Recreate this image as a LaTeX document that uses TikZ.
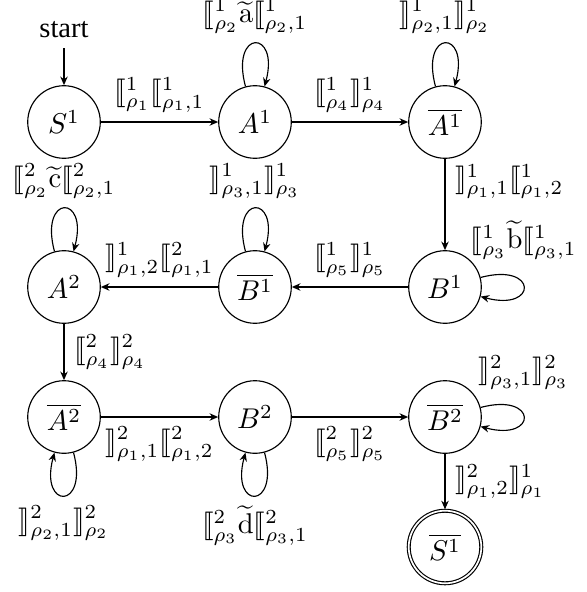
\documentclass[tikz,border=0pt]{standalone}
\usepackage[no-math]{fontspec}
\setmainfont{Liberation Serif}
\usepackage{amsmath}
\usepackage{stmaryrd}
\usetikzlibrary{automata,arrows.meta}
\begin{document}
\begin{tikzpicture}[x=0.35pt,y=0.35pt,
  >={Stealth[length=3pt,width=2.6pt]},
  every state/.style={draw,circle,minimum size=25.4pt,inner sep=0pt},
  every edge/.style={draw,->},
  every loop/.style={->},
  initial text=start, initial distance=13pt]
\useasboundingbox (0,0) rectangle (586,-592);
\node[state,initial,initial where=above] (S1) at (64,-122) {$S^1$};
\node[state] (A1) at (255,-122) {$A^1$};
\node[state] (Ab1) at (445,-122) {$\overline{A^1}$};
\node[state] (A2) at (64,-287) {$A^2$};
\node[state] (Bb1) at (255,-287) {$\overline{B^1}$};
\node[state] (B1) at (445,-287) {$B^1$};
\node[state] (Ab2) at (64,-417) {$\overline{A^2}$};
\node[state] (B2) at (255,-417) {$B^2$};
\node[state] (Bb2) at (445,-417) {$\overline{B^2}$};
\node[state,accepting] (Sb1) at (445,-547) {$\overline{S^1}$};

\path
 (S1) edge node[above] {$\llbracket^1_{\rho_1}\llbracket^1_{\rho_1,1}$} (A1)
 (A1) edge[loop above] node[above] {$\llbracket^1_{\rho_2}\widetilde{\mathrm{a}}\llbracket^1_{\rho_2,1}$} (A1)
 (A1) edge node[above] {$\llbracket^1_{\rho_4}\rrbracket^1_{\rho_4}$} (Ab1)
 (Ab1) edge[loop above] node[above] {$\rrbracket^1_{\rho_2,1}\rrbracket^1_{\rho_2}$} (Ab1)
 (Ab1) edge node[right,pos=0.25] {$\rrbracket^1_{\rho_1,1}\llbracket^1_{\rho_1,2}$} (B1)
 (B1) edge[loop right] node[above,yshift=6pt] {$\llbracket^1_{\rho_3}\widetilde{\mathrm{b}}\llbracket^1_{\rho_3,1}$} (B1)
 (B1) edge node[above] {$\llbracket^1_{\rho_5}\rrbracket^1_{\rho_5}$} (Bb1)
 (Bb1) edge[loop above] node[above] {$\rrbracket^1_{\rho_3,1}\rrbracket^1_{\rho_3}$} (Bb1)
 (Bb1) edge node[above] {$\rrbracket^1_{\rho_1,2}\llbracket^2_{\rho_1,1}$} (A2)
 (A2) edge[loop above] node[above] {$\llbracket^2_{\rho_2}\widetilde{\mathrm{c}}\llbracket^2_{\rho_2,1}$} (A2)
 (A2) edge node[right] {$\llbracket^2_{\rho_4}\rrbracket^2_{\rho_4}$} (Ab2)
 (Ab2) edge[loop below] node[below] {$\rrbracket^2_{\rho_2,1}\rrbracket^2_{\rho_2}$} (Ab2)
 (Ab2) edge node[below] {$\rrbracket^2_{\rho_1,1}\llbracket^2_{\rho_1,2}$} (B2)
 (B2) edge[loop below] node[below] {$\llbracket^2_{\rho_3}\widetilde{\mathrm{d}}\llbracket^2_{\rho_3,1}$} (B2)
 (B2) edge node[below] {$\llbracket^2_{\rho_5}\rrbracket^2_{\rho_5}$} (Bb2)
 (Bb2) edge[loop right] node[above,yshift=6pt] {$\rrbracket^2_{\rho_3,1}\rrbracket^2_{\rho_3}$} (Bb2)
 (Bb2) edge node[right] {$\rrbracket^2_{\rho_1,2}\rrbracket^1_{\rho_1}$} (Sb1);
\end{tikzpicture}
\end{document}
